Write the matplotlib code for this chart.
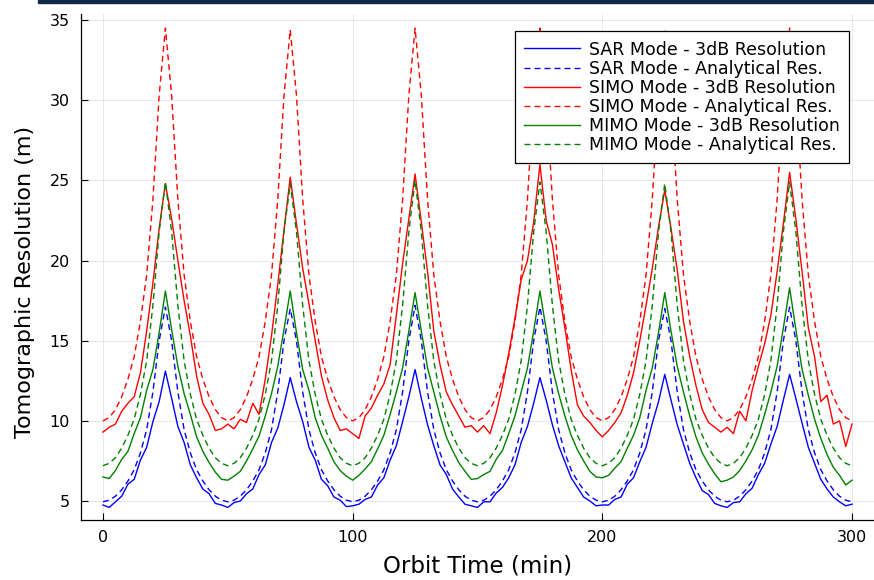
import matplotlib
matplotlib.use("Agg")
import matplotlib.pyplot as plt
from matplotlib.patches import Rectangle
import numpy as np

# orbit time grid (min), one sample every 2.5 min
orbit_time = np.arange(0, 300.1, 2.5)

# SAR mode
sar_3db = [
    4.75, 4.60, 4.95, 5.30, 6.05, 6.35, 7.55, 8.35, 9.95, 11.2, 13.1, 11.4, 9.65, 8.65, 7.25, 6.45, 5.75, 5.45, 4.85, 4.75,
    4.60, 4.90, 5.00, 5.45, 5.75, 6.65, 7.25, 8.65, 9.55, 11.0, 12.7, 11.2, 9.95, 8.35, 7.55, 6.35, 5.95, 5.25, 5.05, 4.65,
    4.70, 4.80, 5.10, 5.25, 6.00, 6.45, 7.55, 8.45, 9.95, 11.5, 13.2, 11.4, 9.75, 8.45, 7.25, 6.65, 5.75, 5.25, 4.80, 4.70,
    4.60, 4.95, 4.95, 5.50, 5.85, 6.45, 7.25, 8.65, 9.65, 11.1, 12.7, 11.3, 9.75, 8.45, 7.45, 6.45, 5.85, 5.25, 5.00, 4.70,
    4.75, 4.75, 5.10, 5.25, 6.05, 6.45, 7.45, 8.35, 9.85, 11.2, 12.9, 11.3, 9.75, 8.55, 7.35, 6.45, 5.65, 5.40, 4.85, 4.70,
    4.60, 4.90, 4.95, 5.45, 5.80, 6.65, 7.35, 8.55, 9.65, 11.3, 12.9, 11.4, 9.85, 8.35, 7.35, 6.35, 5.75, 5.25, 4.95, 4.70,
    4.80,
]
sar_analytical = [
    4.95, 5.05, 5.30, 5.70, 6.25, 6.95, 8.00, 9.45, 11.8, 15.0, 17.1, 15.0, 11.8, 9.45, 8.00, 6.95, 6.25, 5.70, 5.30, 5.05,
    4.95, 5.05, 5.30, 5.70, 6.25, 6.95, 8.00, 9.45, 11.8, 15.0, 17.0, 15.0, 11.8, 9.45, 8.00, 6.95, 6.25, 5.70, 5.30, 5.05,
    4.95, 5.05, 5.30, 5.70, 6.25, 6.95, 8.00, 9.45, 11.8, 15.0, 17.2, 15.0, 11.8, 9.45, 8.00, 6.95, 6.25, 5.70, 5.30, 5.05,
    4.95, 5.05, 5.30, 5.70, 6.25, 6.95, 8.00, 9.45, 11.8, 15.0, 17.1, 15.0, 11.8, 9.45, 8.00, 6.95, 6.25, 5.70, 5.30, 5.05,
    4.95, 5.05, 5.30, 5.70, 6.25, 6.95, 8.00, 9.45, 11.8, 15.0, 17.0, 15.0, 11.8, 9.45, 8.00, 6.95, 6.25, 5.70, 5.30, 5.05,
    4.95, 5.05, 5.30, 5.70, 6.25, 6.95, 8.00, 9.45, 11.8, 15.0, 17.1, 15.0, 11.8, 9.45, 8.00, 6.95, 6.25, 5.70, 5.30, 5.05,
    4.95,
]

# SIMO mode
simo_3db = [
    9.30, 9.60, 9.80, 10.6, 11.1, 11.5, 13.0, 15.6, 18.6, 22.0, 24.8, 22.6, 20.0, 17.5, 15.3, 12.8, 11.1, 10.4, 9.40, 9.50,
    9.80, 9.50, 10.1, 9.90, 11.1, 10.4, 12.6, 15.3, 18.5, 21.9, 25.2, 22.3, 19.5, 17.3, 15.0, 12.8, 11.3, 10.2, 9.40, 9.50,
    9.20, 8.90, 10.3, 10.8, 11.6, 12.3, 13.5, 16.6, 19.8, 22.6, 25.4, 22.4, 19.3, 15.6, 13.5, 11.8, 11.0, 10.3, 9.60, 9.70,
    9.30, 9.70, 9.20, 10.5, 12.2, 14.2, 16.4, 18.8, 20.0, 22.4, 26.0, 22.5, 21.0, 18.2, 15.8, 13.2, 11.0, 10.3, 9.90, 9.40,
    9.00, 9.40, 9.90, 10.5, 11.6, 13.0, 15.0, 17.2, 19.5, 22.1, 24.4, 22.0, 19.4, 16.2, 14.0, 12.2, 10.7, 9.90, 9.60, 9.30,
    9.60, 9.20, 10.6, 10.0, 11.9, 13.4, 14.8, 16.6, 19.3, 22.3, 25.5, 22.6, 19.3, 15.8, 14.0, 11.2, 11.6, 9.80, 10.0, 8.40,
    9.80,
]
simo_analytical = [
    10.0, 10.2, 10.7, 11.5, 12.6, 14.0, 16.2, 19.1, 23.8, 30.3, 34.5, 30.3, 23.8, 19.1, 16.2, 14.0, 12.6, 11.5, 10.7, 10.2,
    10.0, 10.2, 10.7, 11.5, 12.6, 14.0, 16.2, 19.1, 23.8, 30.3, 34.4, 30.3, 23.8, 19.1, 16.2, 14.0, 12.6, 11.5, 10.7, 10.2,
    10.0, 10.2, 10.7, 11.5, 12.6, 14.0, 16.2, 19.1, 23.8, 30.3, 34.5, 30.3, 23.8, 19.1, 16.2, 14.0, 12.6, 11.5, 10.7, 10.2,
    10.0, 10.2, 10.7, 11.5, 12.6, 14.0, 16.2, 19.1, 23.8, 30.3, 34.5, 30.3, 23.8, 19.1, 16.2, 14.0, 12.6, 11.5, 10.7, 10.2,
    10.0, 10.2, 10.7, 11.5, 12.6, 14.0, 16.2, 19.1, 23.8, 30.3, 34.4, 30.3, 23.8, 19.1, 16.2, 14.0, 12.6, 11.5, 10.7, 10.2,
    10.0, 10.2, 10.7, 11.5, 12.6, 14.0, 16.2, 19.1, 23.8, 30.3, 34.5, 30.3, 23.8, 19.1, 16.2, 14.0, 12.6, 11.5, 10.7, 10.2,
    10.0,
]

# MIMO mode
mimo_3db = [
    6.50, 6.40, 6.90, 7.60, 8.10, 9.20, 10.2, 11.9, 13.2, 15.5, 18.1, 15.7, 13.4, 11.7, 10.4, 9.00, 8.10, 7.40, 6.80, 6.35,
    6.30, 6.55, 6.85, 7.50, 8.25, 9.05, 10.3, 11.7, 13.4, 15.7, 18.1, 15.5, 13.2, 11.9, 10.2, 9.10, 8.30, 7.45, 6.90, 6.55,
    6.30, 6.60, 7.00, 7.45, 8.25, 9.10, 10.4, 11.8, 13.3, 15.6, 18.0, 15.6, 13.3, 11.8, 10.3, 9.00, 8.15, 7.40, 6.85, 6.35,
    6.40, 6.65, 6.85, 7.60, 8.15, 9.20, 10.3, 11.8, 13.3, 15.6, 18.1, 15.7, 13.3, 11.7, 10.3, 9.10, 8.20, 7.50, 6.85, 6.50,
    6.45, 6.60, 7.05, 7.45, 8.30, 9.10, 10.2, 11.9, 13.3, 15.5, 18.0, 15.6, 13.4, 11.8, 10.3, 9.00, 8.00, 7.30, 6.70, 6.20,
    6.30, 6.50, 6.90, 7.50, 8.20, 9.10, 10.4, 11.8, 13.4, 15.8, 18.3, 15.7, 13.2, 11.6, 10.1, 8.90, 7.90, 7.10, 6.60, 6.00,
    6.30,
]
mimo_analytical = [
    7.20, 7.35, 7.70, 8.30, 9.10, 10.1, 11.65, 13.75, 17.2, 21.8, 24.9, 21.8, 17.2, 13.75, 11.65, 10.1, 9.10, 8.30, 7.70, 7.35,
    7.20, 7.35, 7.70, 8.30, 9.10, 10.1, 11.65, 13.75, 17.2, 21.8, 24.8, 21.8, 17.2, 13.75, 11.65, 10.1, 9.10, 8.30, 7.70, 7.35,
    7.20, 7.35, 7.70, 8.30, 9.10, 10.1, 11.65, 13.75, 17.2, 21.8, 25.0, 21.8, 17.2, 13.75, 11.65, 10.1, 9.10, 8.30, 7.70, 7.35,
    7.20, 7.35, 7.70, 8.30, 9.10, 10.1, 11.65, 13.75, 17.2, 21.8, 24.9, 21.8, 17.2, 13.75, 11.65, 10.1, 9.10, 8.30, 7.70, 7.35,
    7.20, 7.35, 7.70, 8.30, 9.10, 10.1, 11.65, 13.75, 17.2, 21.8, 24.8, 21.8, 17.2, 13.75, 11.65, 10.1, 9.10, 8.30, 7.70, 7.35,
    7.20, 7.35, 7.70, 8.30, 9.10, 10.1, 11.65, 13.75, 17.2, 21.8, 24.9, 21.8, 17.2, 13.75, 11.65, 10.1, 9.10, 8.30, 7.70, 7.35,
    7.20,
]

x_ticks = [0, 100, 200, 300]
y_ticks = [5, 10, 15, 20, 25, 30, 35]

plt.rcParams["font.family"] = ["DejaVu Sans"]

fig = plt.figure(figsize=(8.74, 5.8), dpi=100)
ax = fig.add_axes([81 / 874, 60 / 580, 793 / 874, 506 / 580])

dash = (0, (4.3, 2.9))
lw = 1.0
series = [
    (sar_3db, "SAR Mode - 3dB Resolution", "#0000ff", "-"),
    (sar_analytical, "SAR Mode - Analytical Res.", "#0000ff", dash),
    (simo_3db, "SIMO Mode - 3dB Resolution", "#ff0000", "-"),
    (simo_analytical, "SIMO Mode - Analytical Res.", "#ff0000", dash),
    (mimo_3db, "MIMO Mode - 3dB Resolution", "#008000", "-"),
    (mimo_analytical, "MIMO Mode - Analytical Res.", "#008000", dash),
]
for values, label, color, style in series:
    ax.plot(orbit_time, values, color=color, linestyle=style, linewidth=lw, label=label)

ax.set_xlim(-8.8, 308.8)
ax.set_ylim(3.815, 35.38)
ax.set_xticks(x_ticks)
ax.set_yticks(y_ticks)
ax.grid(True, color="black", alpha=0.1, linewidth=0.6)

for side in ["top", "right"]:
    ax.spines[side].set_visible(False)
for side in ["left", "bottom"]:
    ax.spines[side].set_linewidth(0.9)

ax.tick_params(direction="in", length=5, width=0.8, labelsize=11.5)
ax.tick_params(axis="y", pad=8)
ax.tick_params(axis="x", pad=7)

ax.set_xlabel("Orbit Time (min)", fontsize=16.5, labelpad=7)
ax.set_ylabel("Tomographic Resolution (m)", fontsize=16)
ax.yaxis.set_label_coords(-0.058, 0.47)

legend = ax.legend(
    loc="upper right",
    bbox_to_anchor=(0.9685, 0.9664),
    borderaxespad=0,
    fontsize=12.5,
    handlelength=3.2,
    handletextpad=0.5,
    labelspacing=0.06,
    borderpad=0.55,
    fancybox=False,
    framealpha=1,
    edgecolor="black",
)
legend.get_frame().set_linewidth(0.9)

# thin dark strip along the top edge of the screenshot
fig.patches.append(Rectangle((38 / 874, 577.5 / 580), 836 / 874, 2.5 / 580,
                             transform=fig.transFigure, color="#13294b", zorder=10))

fig.savefig("out.png", dpi=100)
